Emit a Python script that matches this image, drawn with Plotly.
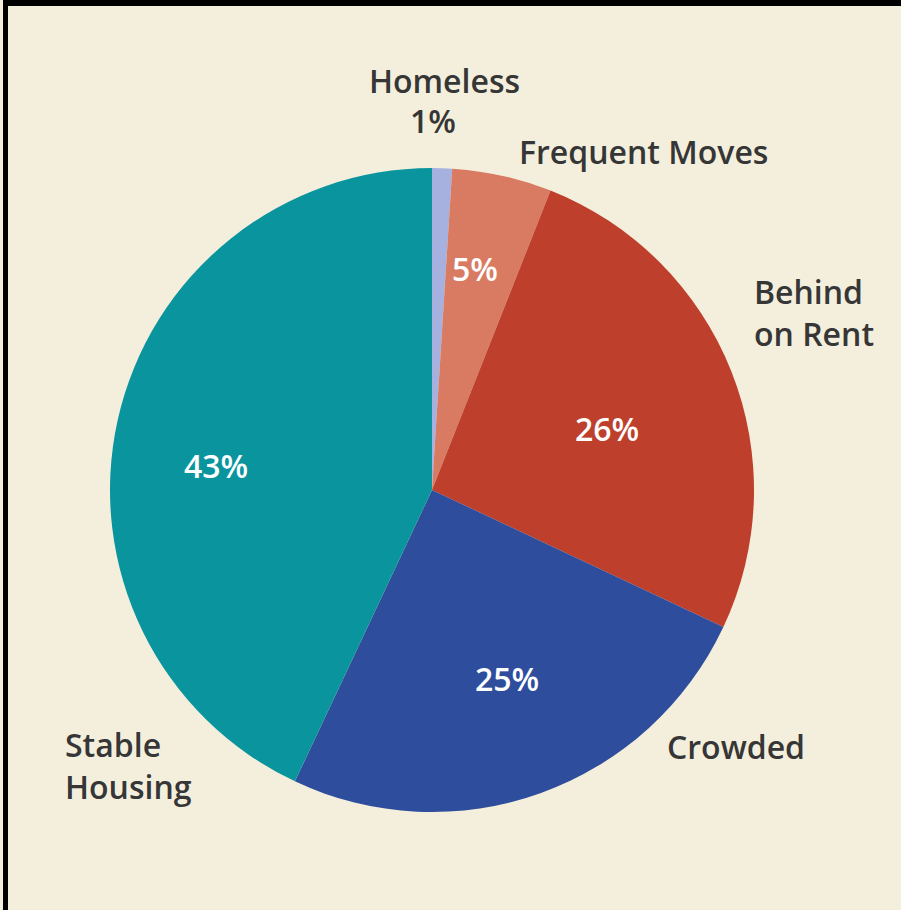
import plotly.graph_objects as go

# ---- data ----
labels = ["Homeless", "Frequent Moves", "Behind on Rent", "Crowded", "Stable Housing"]
values = [1, 5, 26, 25, 43]
label_text = ["Homeless", "Frequent Moves", "Behind<br>on Rent", "Crowded", "Stable<br>Housing"]
colors = ["#a7b1df", "#d97b63", "#bd3f2c", "#2f4d9d", "#0a949e"]

W, H = 901, 910
BG = "#f4efdc"
TEXT = "#363636"
FONT = "Open Sans"

# pie geometry (pixels)
cx, cy, R = 432, 490, 322

fig = go.Figure(go.Pie(
    labels=labels,
    values=values,
    sort=False,
    direction="clockwise",
    rotation=0,
    textinfo="none",
    hoverinfo="label+percent",
    marker=dict(colors=colors, line=dict(width=0)),
    domain=dict(x=[(cx - R) / W, (cx + R) / W], y=[1 - (cy + R) / H, 1 - (cy - R) / H]),
    showlegend=False,
))

def px(x, y):
    return dict(x=x / W, y=1 - y / H, xref="paper", yref="paper")

pct = [f"{v}%" for v in values]

# outside name labels: (x, y, xanchor)
name_pos = [
    (444, 80, "center"),
    (643, 152, "center"),
    (752, 312, "left"),
    (736, 746, "center"),
    (63, 765, "left"),
]
# percentage labels: (x, y, colour)
pct_pos = [
    (433, 121, TEXT),
    (475, 268, "white"),
    (607, 428, "white"),
    (507, 678, "white"),
    (216, 466, "white"),
]

annotations = []
for i, (x, y, xa) in enumerate(name_pos):
    annotations.append(dict(**px(x, y), text=label_text[i], showarrow=False,
                            xanchor=xa, yanchor="middle", align=xa if xa != "center" else "center",
                            font=dict(family=FONT, size=32, color=TEXT, weight=600)))
for i, (x, y, c) in enumerate(pct_pos):
    annotations.append(dict(**px(x, y), text=pct[i], showarrow=False,
                            xanchor="center", yanchor="middle",
                            font=dict(family=FONT, size=32, color=c, weight=600)))

shapes = [
    dict(type="line", xref="paper", yref="paper", x0=5.5 / W, x1=1, y0=1 - 3 / H, y1=1 - 3 / H,
         line=dict(color="black", width=6)),
    dict(type="line", xref="paper", yref="paper", x0=5.5 / W, x1=5.5 / W, y0=0, y1=1,
         line=dict(color="black", width=5)),
]

fig.update_layout(
    width=W, height=H,
    margin=dict(l=0, r=0, t=0, b=0),
    paper_bgcolor=BG, plot_bgcolor=BG,
    annotations=annotations,
    shapes=shapes,
)

fig.write_html("out.html")
